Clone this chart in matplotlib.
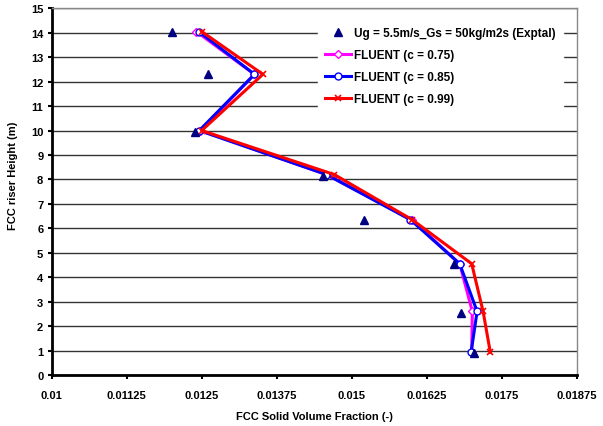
import matplotlib
matplotlib.use("Agg")
import matplotlib.pyplot as plt

plt.rcParams['font.family'] = ['Liberation Sans', 'DejaVu Sans']
plt.rcParams['font.weight'] = 'bold'
plt.rcParams['axes.labelweight'] = 'bold'

# experimental data
exp_h = [0.9, 2.55, 4.55, 6.35, 8.15, 9.95, 12.3, 14.05]
exp_x = [0.01703, 0.01682, 0.01671, 0.01521, 0.01452, 0.01239, 0.01261, 0.01201]

# FLUENT results
sim_h = [0.93, 2.6, 4.55, 6.35, 8.2, 10.0, 12.3, 14.05]
c075 = [0.01700, 0.01701, 0.01680, 0.01600, 0.01458, 0.01248, 0.01338, 0.01241]
c085 = [0.01699, 0.01709, 0.01680, 0.01598, 0.01458, 0.01246, 0.01338, 0.01245]
c099 = [0.01731, 0.01719, 0.01700, 0.01601, 0.01471, 0.01250, 0.01352, 0.01250]

xticks = [0.01, 0.01125, 0.0125, 0.01375, 0.015, 0.01625, 0.0175, 0.01875]
xlabels = ['0.01', '0.01125', '0.0125', '0.01375', '0.015', '0.01625', '0.0175', '0.01875']
yticks = list(range(0, 16))

fig = plt.figure(figsize=(6.03, 4.27), dpi=100)
ax = fig.add_axes([0.0857, 0.1194, 0.8707, 0.8588])

ax.plot(exp_x, exp_h, linestyle='none', marker='^', color='#000080', ms=5.5,
        label='Ug = 5.5m/s_Gs = 50kg/m2s (Exptal)', zorder=5)
ax.plot(c075, sim_h, color='#FF00FF', lw=2.2, marker='D', ms=4, mfc='white',
        mec='#FF00FF', mew=1, label='FLUENT (c = 0.75)', zorder=3)
ax.plot(c085, sim_h, color='#0000FF', lw=2.2, marker='o', ms=5, mfc='white',
        mec='#0000FF', mew=1, label='FLUENT (c = 0.85)', zorder=3)
ax.plot(c099, sim_h, color='#FF0000', lw=2.2, marker='x', ms=4, mew=1.2,
        label='FLUENT (c = 0.99)', zorder=4)

ax.set_xlim(0.01, 0.01875)
ax.set_ylim(0, 15)
ax.set_xticks(xticks)
ax.set_xticklabels(xlabels)
ax.set_yticks(yticks)
ax.tick_params(labelsize=8, direction='out', length=3, width=1.5, pad=8)
ax.tick_params(axis='y', pad=3)

ax.grid(axis='y', color='#333333', lw=1)
ax.set_axisbelow(True)

for s in ['left', 'bottom']:
    ax.spines[s].set_linewidth(2)
    ax.spines[s].set_color('black')
for s in ['top', 'right']:
    ax.spines[s].set_linewidth(1)
    ax.spines[s].set_color('#888888')

ax.set_xlabel('FCC Solid Volume Fraction (-)', fontsize=8, labelpad=8)
ax.set_ylabel('FCC riser Height (m)', fontsize=8)
ax.yaxis.set_label_coords(-0.065, 0.545)

leg = ax.legend(loc='upper right', bbox_to_anchor=(0.985, 0.985), fontsize=8.5,
                frameon=True, fancybox=False, edgecolor='white', framealpha=1,
                handlelength=2.2, handletextpad=0.3, labelspacing=0.85,
                borderpad=0.6)
leg.set_zorder(10)

fig.savefig('out.png', dpi=100)
